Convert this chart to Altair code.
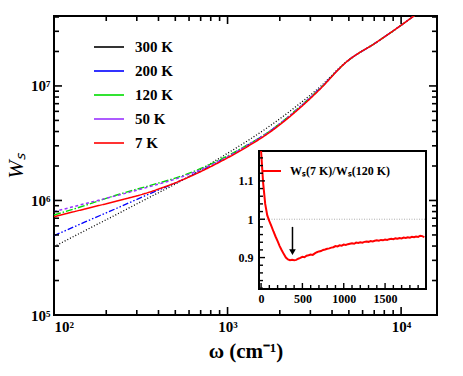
import math
import altair as alt
import pandas as pd

# ---------------- main panel data ----------------
omega = [100, 150, 230, 350, 530, 900, 1300, 1750, 2600, 3400, 4800, 7200, 10000, 12000]
ws_300K = [3.95e5, 5.43e5, 7.57e5, 1.054e6, 1.459e6, 2.344e6, 3.311e6, 4.467e6, 6.998e6,
           9.772e6, 1.614e7, 2.399e7, 3.388e7, 4.14e7]
ws_200K = [4.93e5, 6.457e5, 8.551e5, 1.132e6, 1.479e6, 2.213e6, 3.034e6, 4.027e6, 6.531e6,
           9.506e6, 1.603e7, 2.399e7, 3.388e7, 4.14e7]
ws_120K = [7.464e5, 9.016e5, 1.117e6, 1.340e6, 1.614e6, 2.259e6, 3.055e6, 4.027e6, 6.531e6,
           9.441e6, 1.603e7, 2.399e7, 3.388e7, 4.14e7]
ws_50K = [7.98e5, 9.354e5, 1.104e6, 1.312e6, 1.585e6, 2.213e6, 3.034e6, 4.009e6, 6.501e6,
          9.419e6, 1.603e7, 2.399e7, 3.388e7, 4.14e7]
ws_7K = [7.211e5, 8.414e5, 9.886e5, 1.175e6, 1.479e6, 2.163e6, 2.951e6, 3.936e6, 6.383e6,
         9.333e6, 1.603e7, 2.399e7, 3.388e7, 4.14e7]

temps = ["300 K", "200 K", "120 K", "50 K", "7 K"]
series = [ws_300K, ws_200K, ws_120K, ws_50K, ws_7K]
colors = ["#000000", "#0000ff", "#00dd00", "#9933ff", "#ff0000"]
dashes = [[1, 2], [6, 2, 1.5, 2, 1.5, 2], [7, 2, 1.5, 2], [3, 2.5], [1, 0]]
widths = [1.3, 1.5, 1.5, 1.5, 2.0]

x_domain = [100, 16100]
y_domain = [1e5, 4.08e7]
x_major = [100, 1000, 10000]
x_minor = [200, 300, 400, 500, 600, 700, 800, 900,
           2000, 3000, 4000, 5000, 6000, 7000, 8000, 9000]
y_major = [1e5, 1e6, 1e7]
y_minor = [2e5, 3e5, 4e5, 5e5, 6e5, 7e5, 8e5, 9e5,
           2e6, 3e6, 4e6, 5e6, 6e6, 7e6, 8e6, 9e6, 2e7, 3e7, 4e7]

# ---------------- inset data ----------------
omega_in = list(range(0, 2000, 25))
ratio = [1.30, 1.095, 1.040, 1.010, 0.995, 0.982, 0.968, 0.955, 0.943, 0.930,
         0.919, 0.909, 0.900, 0.895, 0.893, 0.894, 0.893, 0.894, 0.897, 0.899,
         0.902, 0.901, 0.905, 0.906, 0.908, 0.907, 0.911, 0.914, 0.916, 0.917,
         0.920, 0.921, 0.923, 0.924, 0.926, 0.927, 0.930, 0.929, 0.932, 0.931,
         0.934, 0.933, 0.935, 0.936, 0.937, 0.936, 0.939, 0.938, 0.940, 0.939,
         0.941, 0.942, 0.941, 0.943, 0.942, 0.944, 0.945, 0.944, 0.946, 0.945,
         0.947, 0.946, 0.948, 0.949, 0.948, 0.950, 0.949, 0.951, 0.950, 0.952,
         0.951, 0.953, 0.952, 0.954, 0.953, 0.955, 0.954, 0.957, 0.956, 0.953]
inset_label = "Wₛ(7 K)/Wₛ(120 K)"
inset_x_domain = [-25, 1995]
inset_y_domain = [0.818, 1.178]
inset_x_major = [0, 500, 1000, 1500]
inset_x_minor = [100, 200, 300, 400, 600, 700, 800, 900, 1100, 1200, 1300, 1400,
                 1600, 1700, 1800, 1900]
inset_y_major = [0.9, 1.0, 1.1]
inset_y_minor = [0.82, 0.84, 0.86, 0.88, 0.92, 0.94, 0.96, 0.98, 1.02, 1.04,
                 1.06, 1.08, 1.12, 1.14, 1.16]
ref_level = [1.0]
arrow_omega = [380]
arrow_top = [0.98]
arrow_head = [0.914]

# ---------------- layout ----------------
W, H = 383, 299
INS_L, INS_R, INS_T, INS_B = 205, 372, 135, 273
FONT = "Liberation Serif"
MAJ, MIN = 8, 5
IMAJ, IMIN = 6, 4

rows = []
for t, vals in zip(temps, series):
    for o, v in zip(omega, vals):
        rows.append({"omega": o, "ws": v, "T": t})
df = pd.DataFrame(rows)

df_in = pd.DataFrame({"omega": omega_in, "ratio": ratio, "label": inset_label})
df_box = pd.DataFrame({"x": [inset_x_domain[0]], "x2": [inset_x_domain[1]],
                       "y": [inset_y_domain[0]], "y2": [inset_y_domain[1]]})
df_ref = pd.DataFrame({"x": [inset_x_domain[0]], "x2": [inset_x_domain[1]], "y": ref_level})
df_arrow = pd.DataFrame({"x": arrow_omega, "y": arrow_top, "y2": arrow_head})

xs = alt.Scale(type="log", domain=x_domain)
ys = alt.Scale(type="log", domain=y_domain)
ixs = alt.Scale(domain=inset_x_domain, range=[INS_L, INS_R])
iys = alt.Scale(domain=inset_y_domain, range=[INS_B, INS_T], clamp=True)

# pixel -> data conversions for tick lengths (derived from the scales above)
x_px_per_dec = W / math.log10(x_domain[1] / x_domain[0])
y_px_per_dec = H / math.log10(y_domain[1] / y_domain[0])
ix_per_px = (inset_x_domain[1] - inset_x_domain[0]) / (INS_R - INS_L)
iy_per_px = (inset_y_domain[1] - inset_y_domain[0]) / (INS_B - INS_T)


def log_shift(edge, px, per_dec):
    return edge * 10 ** (px / per_dec)


def tick_frame(major, minor, edge, end_fn, lmaj, lmin):
    vals = list(major) + list(minor)
    lens = [lmaj] * len(major) + [lmin] * len(minor)
    return pd.DataFrame({"v": vals, "e": [edge] * len(vals),
                         "f": [end_fn(edge, L) for L in lens]})


sup = "'10' + ['⁰','¹','²','³','⁴','⁵','⁶','⁷','⁸','⁹'][round(log(datum.value)/LN10)]"

lines = alt.Chart(df).mark_line(clip=True, interpolate="monotone").encode(
    x=alt.X("omega:Q", scale=xs, axis=alt.Axis(
        orient="bottom", values=x_major, ticks=False, domain=False, grid=False,
        labelExpr=sup, labelFont=FONT, labelFontSize=15, labelFontWeight="bold",
        labelPadding=4, labelColor="black",
        title="ω (cm⁻¹)", titleFont=FONT, titleFontSize=21, titleFontWeight="bold",
        titlePadding=6, titleColor="black")),
    y=alt.Y("ws:Q", scale=ys, axis=alt.Axis(
        orient="left", values=y_major, ticks=False, domain=False, grid=False,
        labelExpr=sup, labelFont=FONT, labelFontSize=15, labelFontWeight="bold",
        labelPadding=4, labelColor="black",
        title="Wₛ", titleFont=FONT, titleFontSize=22, titleFontWeight="normal",
        titleFontStyle="italic", titlePadding=3, titleColor="black")),
    color=alt.Color("T:N", sort=temps, scale=alt.Scale(domain=temps, range=colors),
                    legend=alt.Legend(orient="none", legendX=39, legendY=15, title=None,
                                      symbolType="stroke", symbolSize=900,
                                      symbolStrokeWidth=1.6, labelFont=FONT,
                                      labelFontSize=15, labelFontWeight="bold",
                                      labelColor="black", labelOffset=10,
                                      rowPadding=-12.5, padding=0)),
    strokeDash=alt.StrokeDash("T:N", sort=temps,
                              scale=alt.Scale(domain=temps, range=dashes), legend=None),
    strokeWidth=alt.StrokeWidth("T:N", sort=temps,
                                scale=alt.Scale(domain=temps, range=widths), legend=None),
)


def vticks(frame, xscale, yscale, width):
    return alt.Chart(frame).mark_rule(color="black", strokeWidth=width).encode(
        x=alt.X("v:Q", scale=xscale, axis=None),
        y=alt.Y("e:Q", scale=yscale, axis=None),
        y2="f:Q",
    )


def hticks(frame, xscale, yscale, width):
    return alt.Chart(frame).mark_rule(color="black", strokeWidth=width).encode(
        y=alt.Y("v:Q", scale=yscale, axis=None),
        x=alt.X("e:Q", scale=xscale, axis=None),
        x2="f:Q",
    )


bottom_f = tick_frame(x_major, x_minor, y_domain[0],
                      lambda e, L: log_shift(e, L, y_px_per_dec), MAJ, MIN)
top_f = tick_frame(x_major, x_minor, y_domain[1],
                   lambda e, L: log_shift(e, -L, y_px_per_dec), MAJ, MIN)
left_f = tick_frame(y_major, y_minor, x_domain[0],
                    lambda e, L: log_shift(e, L, x_px_per_dec), MAJ, MIN)
right_f = tick_frame(y_major, y_minor, x_domain[1],
                     lambda e, L: log_shift(e, -L, x_px_per_dec), MAJ, MIN)
ibottom_f = tick_frame(inset_x_major, inset_x_minor, inset_y_domain[0],
                       lambda e, L: e + L * iy_per_px, IMAJ, IMIN)
ileft_f = tick_frame(inset_y_major, inset_y_minor, inset_x_domain[0],
                     lambda e, L: e + L * ix_per_px, IMAJ, IMIN)

main_ticks = [vticks(bottom_f, xs, ys, 1.6), vticks(top_f, xs, ys, 1.6),
              hticks(left_f, xs, ys, 1.6), hticks(right_f, xs, ys, 1.6)]

box = alt.Chart(df_box).mark_rect(fill="white", stroke="black", strokeWidth=2).encode(
    x=alt.X("x:Q", scale=ixs, axis=alt.Axis(
        orient="bottom", offset=INS_B - H, values=inset_x_major, ticks=False,
        domain=False, grid=False, labelFont=FONT, labelFontSize=12,
        labelFontWeight="bold", labelColor="black", labelPadding=4, title=None,
        format="d")),
    x2="x2:Q",
    y=alt.Y("y:Q", scale=iys, axis=alt.Axis(
        orient="left", offset=-INS_L, values=inset_y_major, ticks=False,
        domain=False, grid=False, labelFont=FONT, labelFontSize=12,
        labelFontWeight="bold", labelColor="black", labelPadding=6, title=None,
        labelExpr="toString(datum.value)")),
    y2="y2:Q",
)

inset_ticks = [vticks(ibottom_f, ixs, iys, 1.4), hticks(ileft_f, ixs, iys, 1.4)]

ref = alt.Chart(df_ref).mark_rule(color="#999999", strokeDash=[1, 1.5], strokeWidth=0.8).encode(
    x=alt.X("x:Q", scale=ixs, axis=None), x2="x2:Q",
    y=alt.Y("y:Q", scale=iys, axis=None),
)

inset_line = alt.Chart(df_in).mark_line(strokeWidth=2).encode(
    x=alt.X("omega:Q", scale=ixs, axis=None),
    y=alt.Y("ratio:Q", scale=iys, axis=None),
    color=alt.Color("label:N", scale=alt.Scale(range=["#ff0000"]),
                    legend=alt.Legend(orient="none", legendX=INS_L + 3, legendY=145,
                                      title=None, symbolType="stroke", symbolSize=324,
                                      symbolStrokeWidth=2, labelFont=FONT,
                                      labelFontSize=12, labelFontWeight="bold",
                                      labelColor="black", labelOffset=8, padding=0)),
)

arrow_shaft = alt.Chart(df_arrow).mark_rule(color="black", strokeWidth=1.5).encode(
    x=alt.X("x:Q", scale=ixs, axis=None),
    y=alt.Y("y:Q", scale=iys, axis=None), y2="y2:Q",
)
arrow_tip = alt.Chart(df_arrow).mark_point(shape="triangle-down", filled=True,
                                            color="black", size=45, opacity=1).encode(
    x=alt.X("x:Q", scale=ixs, axis=None),
    y=alt.Y("y2:Q", scale=iys, axis=None),
)

chart = alt.layer(lines, box, ref, inset_line, arrow_shaft, arrow_tip,
                  *main_ticks, *inset_ticks).resolve_scale(
    x="independent", y="independent", color="independent"
).resolve_axis(x="independent", y="independent").resolve_legend(
    color="independent"
).properties(
    width=W, height=H,
    autosize=alt.AutoSizeParams(type="none"),
    padding={"left": 46, "top": 8, "right": 18, "bottom": 53},
    background="white",
).configure_view(stroke="black", strokeWidth=2)

chart.save("out.html", embed_options={"renderer": "svg", "actions": False})
